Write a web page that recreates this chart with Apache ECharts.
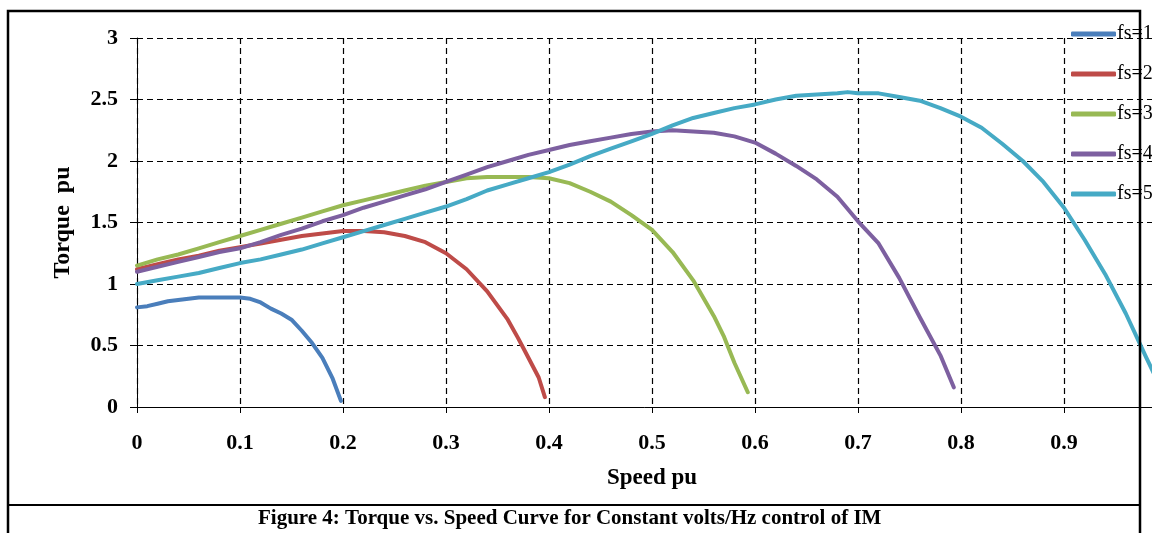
<!DOCTYPE html>
<html>
<head>
<meta charset="utf-8">
<script src="https://cdn.jsdelivr.net/npm/echarts@6/dist/echarts.min.js"></script>
<style>
html,body{margin:0;padding:0;background:#fff;}
#chart{width:1152px;height:533px;}
</style>
</head>
<body>
<div id="chart"></div>
<script>
const seriesNames = ['fs=10Hz', 'fs=20Hz', 'fs=30Hz', 'fs=40Hz', 'fs=50Hz'];
const seriesColors = ['#4a7ebb', '#be4b48', '#98b954', '#7d60a0', '#46aac5'];

const fs10 = [[0,0.81],[0.01,0.82],[0.02,0.84],[0.03,0.86],[0.04,0.87],[0.05,0.88],[0.06,0.89],[0.08,0.89],[0.1,0.89],[0.11,0.88],[0.12,0.85],[0.13,0.80],[0.14,0.76],[0.15,0.71],[0.16,0.62],[0.17,0.52],[0.18,0.40],[0.19,0.23],[0.198,0.05]];
const fs20 = [[0,1.12],[0.02,1.16],[0.04,1.2],[0.06,1.23],[0.08,1.27],[0.1,1.3],[0.12,1.33],[0.14,1.36],[0.16,1.39],[0.18,1.41],[0.2,1.43],[0.22,1.43],[0.24,1.42],[0.26,1.39],[0.28,1.34],[0.3,1.25],[0.32,1.12],[0.34,0.94],[0.36,0.71],[0.37,0.56],[0.38,0.40],[0.39,0.24],[0.396,0.08]];
const fs30 = [[0,1.15],[0.02,1.2],[0.04,1.24],[0.06,1.29],[0.08,1.34],[0.1,1.39],[0.12,1.44],[0.14,1.49],[0.16,1.54],[0.18,1.59],[0.2,1.64],[0.22,1.68],[0.24,1.72],[0.26,1.76],[0.28,1.8],[0.3,1.83],[0.32,1.86],[0.34,1.87],[0.36,1.87],[0.38,1.87],[0.4,1.86],[0.42,1.82],[0.44,1.75],[0.46,1.67],[0.48,1.56],[0.5,1.44],[0.52,1.26],[0.54,1.03],[0.56,0.74],[0.57,0.57],[0.58,0.36],[0.593,0.12]];
const fs40 = [[0,1.1],[0.02,1.14],[0.04,1.18],[0.06,1.22],[0.08,1.26],[0.1,1.29],[0.12,1.34],[0.14,1.4],[0.16,1.45],[0.18,1.51],[0.2,1.56],[0.22,1.62],[0.24,1.67],[0.26,1.72],[0.28,1.77],[0.3,1.83],[0.32,1.89],[0.34,1.95],[0.36,2.0],[0.38,2.05],[0.4,2.09],[0.42,2.13],[0.44,2.16],[0.46,2.19],[0.48,2.22],[0.5,2.24],[0.52,2.25],[0.54,2.24],[0.56,2.23],[0.58,2.2],[0.6,2.15],[0.62,2.06],[0.64,1.96],[0.66,1.85],[0.68,1.71],[0.7,1.51],[0.72,1.33],[0.74,1.05],[0.76,0.73],[0.78,0.42],[0.793,0.16]];
const fs50 = [[0,1.0],[0.02,1.03],[0.04,1.06],[0.06,1.09],[0.08,1.13],[0.1,1.17],[0.12,1.2],[0.14,1.24],[0.16,1.28],[0.18,1.33],[0.2,1.38],[0.22,1.43],[0.24,1.48],[0.26,1.53],[0.28,1.58],[0.3,1.63],[0.32,1.69],[0.34,1.76],[0.36,1.81],[0.38,1.86],[0.4,1.91],[0.42,1.97],[0.44,2.04],[0.46,2.1],[0.48,2.16],[0.5,2.22],[0.52,2.29],[0.54,2.35],[0.56,2.39],[0.58,2.43],[0.6,2.46],[0.62,2.5],[0.64,2.53],[0.66,2.54],[0.68,2.55],[0.69,2.56],[0.7,2.55],[0.72,2.55],[0.74,2.52],[0.76,2.49],[0.78,2.43],[0.8,2.36],[0.82,2.27],[0.84,2.14],[0.86,2.0],[0.88,1.83],[0.9,1.62],[0.92,1.36],[0.94,1.08],[0.96,0.76],[0.98,0.4],[1.0,0.05]];

const allData = [fs10, fs20, fs30, fs40, fs50];
const xTitle = 'Speed pu';
const yTitle = 'Torque  pu';
const caption = 'Figure 4: Torque vs. Speed Curve for Constant volts/Hz control of IM';

const FONT = '"Liberation Serif", "Times New Roman", serif';

const chart = echarts.init(document.getElementById('chart'), null, {renderer: 'canvas'});
const option = {
  animation: false,
  backgroundColor: '#fff',
  grid: {left: 137, top: 38, width: 1030, height: 369, containLabel: false, outerBoundsMode: 'none'},
  xAxis: {
    type: 'value', min: 0, max: 1, interval: 0.1,
    name: xTitle, nameLocation: 'middle', nameGap: 60,
    nameTextStyle: {fontFamily: FONT, fontWeight: 'bold', fontSize: 23, color: '#000'},
    axisLine: {show: true, lineStyle: {color: '#000', width: 1}},
    axisTick: {show: true, length: 6, lineStyle: {color: '#000'}},
    axisLabel: {margin: 25, fontFamily: FONT, fontWeight: 'bold', fontSize: 22, color: '#000'},
    splitLine: {show: true, lineStyle: {color: '#000', type: [6, 4], width: 1.2}}
  },
  yAxis: {
    type: 'value', min: 0, max: 3, interval: 0.5,
    name: yTitle, nameLocation: 'middle', nameGap: 62, nameRotate: 90,
    nameTextStyle: {fontFamily: FONT, fontWeight: 'bold', fontSize: 24, color: '#000'},
    axisLine: {show: true, lineStyle: {color: '#000', width: 1}},
    axisTick: {show: true, length: 7, lineStyle: {color: '#000'}},
    axisLabel: {margin: 19, fontFamily: FONT, fontWeight: 'bold', fontSize: 22, color: '#000'},
    splitLine: {show: true, lineStyle: {color: '#000', type: [6, 4], width: 1.2}}
  },
  legend: {
    orient: 'vertical', left: 1071, top: 24, padding: 0,
    icon: 'roundRect', itemWidth: 45, itemHeight: 5, itemGap: 20,
    textStyle: {fontFamily: FONT, fontSize: 20, color: '#000', padding: [0, 0, 0, -4]},
    data: seriesNames
  },
  series: allData.map((d, i) => ({
    name: seriesNames[i], type: 'line', data: d,
    symbol: 'none', smooth: false,
    lineStyle: {width: 4, color: seriesColors[i], cap: 'round', join: 'round'},
    itemStyle: {color: seriesColors[i]}
  })),
  graphic: [
    {type: 'rect', z: 100, shape: {x: 8, y: 11, width: 1132, height: 540},
     style: {fill: 'none', stroke: '#000', lineWidth: 2.5}},
    {type: 'line', z: 100, shape: {x1: 8, y1: 505, x2: 1140, y2: 505},
     style: {stroke: '#000', lineWidth: 2}},
    {type: 'text', z: 100, left: 258, top: 508,
     style: {text: caption, font: 'bold 21px ' + FONT, fill: '#000'}}
  ]
};
chart.setOption(option);
</script>
</body>
</html>
